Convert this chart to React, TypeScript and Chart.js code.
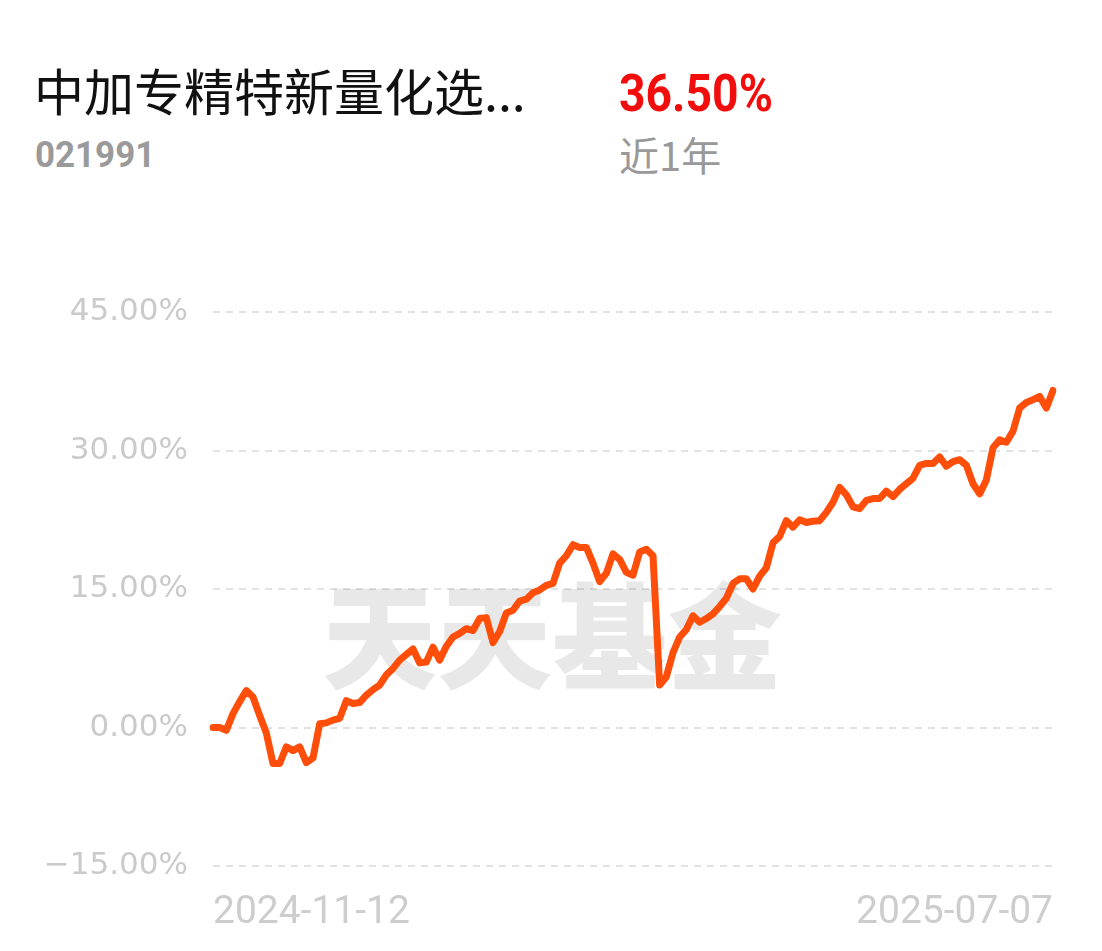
import React, { useEffect, useRef } from 'react';
import { Chart, registerables } from 'chart.js';

Chart.register(...registerables);

const fundName = '中加专精特新量化选...';
const fundCode = '021991';
const headlineReturn = '36.50%';
const periodLabel = '近1年';
const xTickLabels = ['2024-11-12', '2025-07-07'];
const yTickValues = [-15, 0, 15, 30, 45];

// cumulative return (%) per trading day
const returns = [
  0.0, 0.0, -0.3, 1.5, 2.8, 4.0, 3.3, 1.3, -0.6, -3.9,
  -3.9, -2.1, -2.5, -2.1, -3.8, -3.3, 0.4, 0.5, 0.8, 1.0,
  2.9, 2.6, 2.7, 3.5, 4.1, 4.6, 5.7, 6.4, 7.3, 7.9,
  8.5, 7.0, 7.1, 8.7, 7.3, 8.8, 9.8, 10.2, 10.7, 10.5,
  11.8, 11.9, 9.2, 10.4, 12.4, 12.7, 13.7, 13.9, 14.6, 14.9,
  15.4, 15.6, 17.8, 18.6, 19.8, 19.5, 19.5, 17.8, 15.8, 16.7,
  18.8, 18.2, 16.8, 16.5, 19.0, 19.3, 18.6, 4.6, 5.5, 8.1,
  9.8, 10.6, 12.1, 11.4, 11.8, 12.3, 13.1, 14.0, 15.6, 16.1,
  16.1, 15.0, 16.4, 17.3, 20.0, 20.7, 22.4, 21.7, 22.5, 22.2,
  22.35, 22.4, 23.3, 24.4, 26.0, 25.2, 23.9, 23.7, 24.6, 24.8,
  24.8, 25.6, 25.0, 25.8, 26.4, 27.0, 28.4, 28.6, 28.6, 29.3,
  28.3, 28.8, 29.0, 28.4, 26.4, 25.3, 26.8, 30.3, 31.15, 30.9,
  32.1, 34.6, 35.2, 35.5, 35.85, 34.6, 36.5,
];

const tradingDays = returns.map((_, i) => String(i));

const watermarkPlugin = {
  id: 'watermark',
  beforeDatasetsDraw(chart: any) {
    const { ctx, chartArea } = chart;
    ctx.save();
    ctx.font = '900 115px "Noto Sans CJK SC"';
    ctx.fillStyle = 'rgba(0,0,0,0.09)';
    ctx.textAlign = 'center';
    ctx.textBaseline = 'middle';
    const cx = chartArea.left + (chartArea.right - chartArea.left) * 0.404;
    const cy = chartArea.top + (chartArea.bottom - chartArea.top) * 0.585;
    ctx.fillText('天天基金', cx, cy);
    ctx.restore();
  },
};

function FundChart() {
  const ref = useRef<HTMLCanvasElement | null>(null);
  useEffect(() => {
    if (!ref.current) return;
    const n = returns.length;
    const chart = new Chart(ref.current, {
      type: 'line',
      data: {
        labels: tradingDays,
        datasets: [
          {
            data: returns,
            borderColor: '#ff4d0a',
            borderWidth: 7,
            pointRadius: 0,
            tension: 0,
            borderJoinStyle: 'round',
            borderCapStyle: 'round',
            fill: false,
          },
        ],
      },
      options: {
        animation: false,
        responsive: false,
        devicePixelRatio: 1,
        layout: { padding: { left: 0, right: 49, top: 52, bottom: 0 } },
        plugins: { legend: { display: false }, tooltip: { enabled: false } },
        scales: {
          x: {
            type: 'category',
            grid: { display: false },
            border: { display: false },
            ticks: {
              autoSkip: false,
              maxRotation: 0,
              minRotation: 0,
              align: 'inner',
              padding: 16,
              color: '#cdcdcd',
              font: { family: 'Roboto', size: 39 },
              callback: (_v: any, i: number) =>
                i === 0 ? xTickLabels[0] : i === n - 1 ? xTickLabels[1] : '',
            },
            afterFit: (s: any) => {
              s.height = 85;
            },
          },
          y: {
            min: -15,
            max: 45,
            afterBuildTicks: (s: any) => {
              s.ticks = yTickValues.map((v) => ({ value: v }));
            },
            grid: { color: '#e2e2e2', lineWidth: 2, drawTicks: false },
            border: { display: false, dash: [7, 6] },
            ticks: {
              padding: 25,
              color: '#cacaca',
              font: { family: 'DejaVu Sans', size: 31 },
              callback: (v: any) => Number(v).toFixed(2).replace('-', '\u2212') + '%',
            },
            afterFit: (s: any) => {
              s.width = 213;
            },
          },
        },
      },
      plugins: [watermarkPlugin],
    } as any);
    return () => chart.destroy();
  }, []);
  return (
    <canvas
      ref={ref}
      width={1102}
      height={691}
      style={{ position: 'absolute', left: 0, top: 260, width: 1102, height: 691 }}
    />
  );
}

export default function App() {
  return (
    <div
      style={{
        position: 'absolute',
        left: 0,
        top: 0,
        width: 1102,
        height: 951,
        background: '#fff',
        overflow: 'hidden',
      }}
    >
      <div
        style={{
          position: 'absolute',
          left: 34,
          top: 64,
          fontFamily: '"Noto Sans CJK SC"',
          fontSize: 50,
          lineHeight: 1,
          color: '#111',
          whiteSpace: 'nowrap',
        }}
      >
        {fundName}
      </div>
      <div
        style={{
          position: 'absolute',
          left: 35,
          top: 137,
          fontFamily: 'Roboto',
          fontWeight: 700,
          fontSize: 36,
          lineHeight: 1,
          color: '#9a9a9a',
          transform: 'scaleX(0.97)',
          transformOrigin: 'left',
          whiteSpace: 'nowrap',
        }}
      >
        {fundCode}
      </div>
      <div
        style={{
          position: 'absolute',
          left: 619,
          top: 68,
          fontFamily: 'Roboto',
          fontWeight: 700,
          fontSize: 52,
          lineHeight: 1,
          color: '#f20d0d',
          transform: 'scaleX(0.89)',
          transformOrigin: 'left',
          whiteSpace: 'nowrap',
        }}
      >
        {headlineReturn}
      </div>
      <div
        style={{
          position: 'absolute',
          left: 619,
          top: 134,
          fontFamily: '"Noto Sans CJK SC"',
          fontSize: 40,
          lineHeight: 1,
          color: '#999',
          whiteSpace: 'nowrap',
        }}
      >
        {periodLabel}
      </div>
      <FundChart />
    </div>
  );
}
